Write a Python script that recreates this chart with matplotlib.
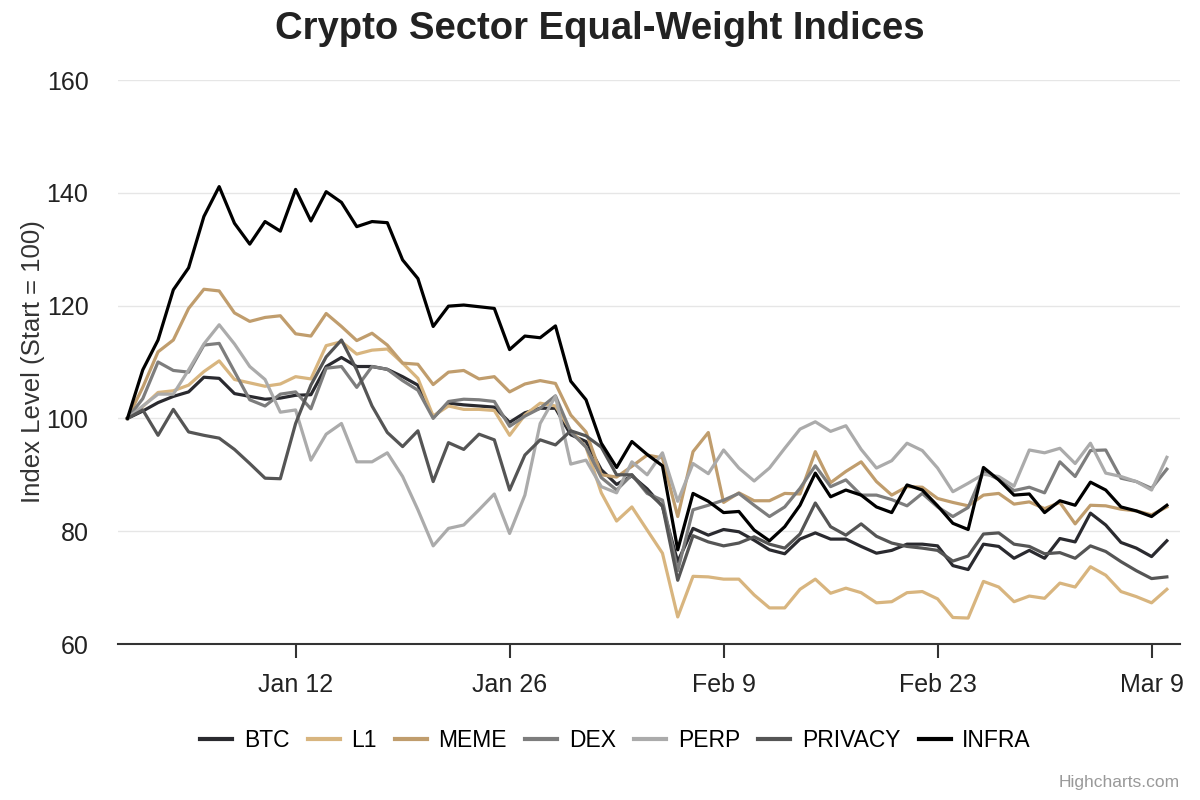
import numpy as np
import pandas as pd
import matplotlib
matplotlib.use("Agg")
import matplotlib.pyplot as plt
import matplotlib.dates as mdates

plt.rcParams['font.family'] = ['Liberation Sans', 'DejaVu Sans']

# daily index levels, Jan 1 .. Mar 10
dates = pd.date_range("2026-01-01", periods=69, freq="D")

btc = [100, 101.3, 102.8, 103.9, 104.7, 107.3, 107.1, 104.4, 103.9, 103.4,
       103.6, 104.1, 104.2, 109.2, 110.8, 109.2, 109.2, 108.7, 107.4, 105.9,
       100.2, 102.7, 102.4, 102.2, 102.0, 99.3, 101.0, 101.8, 101.8, 97.1,
       95.9, 90.9, 88.3, 89.8, 87.5, 84.4, 74.6, 80.5, 79.3, 80.3,
       79.9, 78.4, 76.7, 76.0, 78.6, 79.7, 78.6, 78.6, 77.3, 76.1,
       76.6, 77.7, 77.7, 77.4, 73.9, 73.2, 77.7, 77.3, 75.2, 76.6,
       75.2, 78.7, 78.1, 83.2, 81.1, 78.0, 77.0, 75.5, 78.3]
l1 = [100, 102.1, 104.6, 104.9, 105.9, 108.3, 110.2, 106.9, 106.3, 105.7,
      106.1, 107.4, 107.0, 112.9, 113.6, 111.4, 112.1, 112.3, 109.8, 107.1,
      100.4, 102.2, 101.6, 101.6, 101.4, 97.0, 100.6, 102.7, 102.2, 97.9,
      94.9, 86.8, 81.8, 84.3, 80.2, 76.1, 64.8, 72.0, 71.9, 71.5,
      71.5, 68.7, 66.4, 66.4, 69.7, 71.5, 69.0, 69.9, 69.1, 67.3,
      67.5, 69.1, 69.3, 68.0, 64.7, 64.6, 71.1, 70.1, 67.5, 68.5,
      68.1, 70.8, 70.1, 73.7, 72.2, 69.3, 68.4, 67.3, 69.7]
meme = [100, 105.5, 111.8, 113.9, 119.5, 122.9, 122.6, 118.7, 117.2, 117.9,
        118.2, 115.0, 114.6, 118.6, 116.3, 113.8, 115.1, 113.0, 109.8, 109.6,
        106.0, 108.2, 108.5, 107.0, 107.4, 104.7, 106.1, 106.7, 106.2, 100.6,
        97.6, 90.0, 89.6, 91.5, 93.5, 93.0, 82.6, 94.1, 97.5, 85.1,
        86.8, 85.4, 85.4, 86.7, 86.6, 94.1, 88.6, 90.6, 92.3, 88.8,
        86.4, 87.9, 87.8, 85.8, 85.1, 84.5, 86.4, 86.7, 84.8, 85.2,
        84.0, 85.1, 81.3, 84.6, 84.5, 83.9, 83.6, 82.9, 84.3]
dex = [100, 103.5, 110.0, 108.5, 108.2, 113.0, 113.3, 108.3, 103.3, 102.2,
       104.3, 104.7, 101.7, 108.9, 109.2, 105.5, 109.2, 108.7, 106.7, 105.0,
       100.0, 103.0, 103.4, 103.3, 103.0, 98.6, 100.4, 101.8, 104.0, 97.6,
       94.9, 89.5, 87.3, 90.0, 86.7, 85.5, 73.0, 83.8, 84.6, 85.5,
       86.7, 84.6, 82.6, 84.3, 87.6, 91.6, 87.9, 89.1, 86.4, 86.4,
       85.6, 84.5, 86.7, 84.3, 82.6, 84.2, 90.5, 89.2, 87.2, 87.8,
       86.8, 92.3, 89.7, 94.3, 94.4, 89.4, 88.8, 87.6, 91.0]
perp = [100, 102.2, 104.3, 104.3, 108.6, 113.2, 116.6, 113.2, 109.2, 106.9,
        101.1, 101.5, 92.6, 97.2, 99.1, 92.3, 92.3, 93.9, 89.7, 83.8,
        77.4, 80.5, 81.1, 83.8, 86.6, 79.6, 86.4, 99.1, 103.9, 91.9,
        92.6, 87.9, 86.8, 92.3, 90.0, 93.9, 85.3, 92.0, 90.2, 94.4,
        91.2, 88.9, 91.2, 94.7, 98.1, 99.4, 97.7, 98.7, 94.5, 91.2,
        92.5, 95.6, 94.3, 91.2, 87.0, 88.5, 90.1, 89.7, 88.0, 94.4,
        93.9, 94.7, 92.0, 95.6, 90.3, 89.7, 88.8, 87.3, 93.1]
privacy = [100, 101.5, 97.0, 101.6, 97.6, 97.0, 96.5, 94.5, 92.0, 89.4,
           89.3, 99.1, 105.9, 110.9, 113.9, 108.6, 102.2, 97.5, 95.0, 97.8,
           88.8, 95.7, 94.5, 97.2, 96.2, 87.3, 93.5, 96.2, 95.3, 97.8,
           96.9, 94.9, 90.0, 90.0, 87.0, 84.5, 71.3, 79.2, 78.1, 77.4,
           77.9, 79.0, 77.7, 77.0, 79.5, 85.0, 80.8, 79.3, 81.3, 79.1,
           77.9, 77.3, 77.0, 76.6, 74.7, 75.6, 79.5, 79.7, 77.7, 77.3,
           76.0, 76.2, 75.2, 77.4, 76.4, 74.6, 73.0, 71.6, 71.9]
infra = [100, 108.6, 113.9, 122.8, 126.7, 135.8, 141.1, 134.6, 130.9, 134.9,
         133.2, 140.6, 135.0, 140.2, 138.3, 134.0, 134.9, 134.7, 128.1, 124.8,
         116.3, 119.9, 120.1, 119.8, 119.5, 112.2, 114.6, 114.3, 116.4, 106.6,
         103.3, 95.6, 91.3, 95.9, 93.6, 91.6, 76.7, 86.7, 85.3, 83.3,
         83.5, 80.2, 78.3, 80.8, 84.6, 90.3, 86.1, 87.3, 86.4, 84.3,
         83.3, 88.2, 87.3, 84.5, 81.4, 80.3, 91.3, 89.1, 86.4, 86.6,
         83.3, 85.4, 84.6, 88.7, 87.3, 84.3, 83.6, 82.6, 84.6]

names = ["BTC", "L1", "MEME", "DEX", "PERP", "PRIVACY", "INFRA"]
series = [btc, l1, meme, dex, perp, privacy, infra]
colors = ["#2a2a2f", "#d8b57f", "#c09d6d", "#7d7d7d", "#ababab", "#555555", "#000000"]

fig = plt.figure(figsize=(12, 8), dpi=100)
ax = fig.add_axes([0.098, 0.195, 0.885, 0.705])

for name, vals, c in zip(names, series, colors):
    ax.plot(dates, vals, color=c, lw=2.3, label=name, solid_joinstyle="round")

ax.set_ylim(60, 160)
ax.set_yticks([60, 80, 100, 120, 140, 160])
ax.set_xlim(dates[0] - pd.Timedelta(hours=15.5), dates[-1] + pd.Timedelta(hours=20))
ax.set_xticks(pd.to_datetime(["2026-01-12", "2026-01-26", "2026-02-09", "2026-02-23", "2026-03-09"]))
ax.xaxis.set_major_formatter(mdates.DateFormatter("%b %-d"))

ax.grid(axis="y", color="#e6e6e6", lw=1)
ax.set_axisbelow(True)
for s in ["top", "right", "left"]:
    ax.spines[s].set_visible(False)
ax.spines["bottom"].set_color("#333333")
ax.spines["bottom"].set_linewidth(1.5)
ax.tick_params(axis="y", length=0, labelsize=18, labelcolor="#222222", pad=21)
ax.tick_params(axis="x", length=10, width=1.5, color="#333333", labelsize=18,
               labelcolor="#222222", pad=11)

ax.set_ylabel("Index Level (Start = 100)", fontsize=18.5, color="#333333", labelpad=1)

fig.suptitle("Crypto Sector Equal-Weight Indices", fontsize=27.5, fontweight="bold",
             color="#222222", y=0.986, va="top")

leg = fig.legend(loc="center", bbox_to_anchor=(0.513, 0.074), ncol=7, frameon=False,
                 fontsize=16.5, handlelength=1.4, handletextpad=0.5, columnspacing=0.8)
for line in leg.get_lines():
    line.set_linewidth(3)

fig.text(0.983, 0.022, "Highcharts.com", ha="right", va="center", fontsize=12.5, color="#999999")

fig.savefig("out.png", dpi=100)
